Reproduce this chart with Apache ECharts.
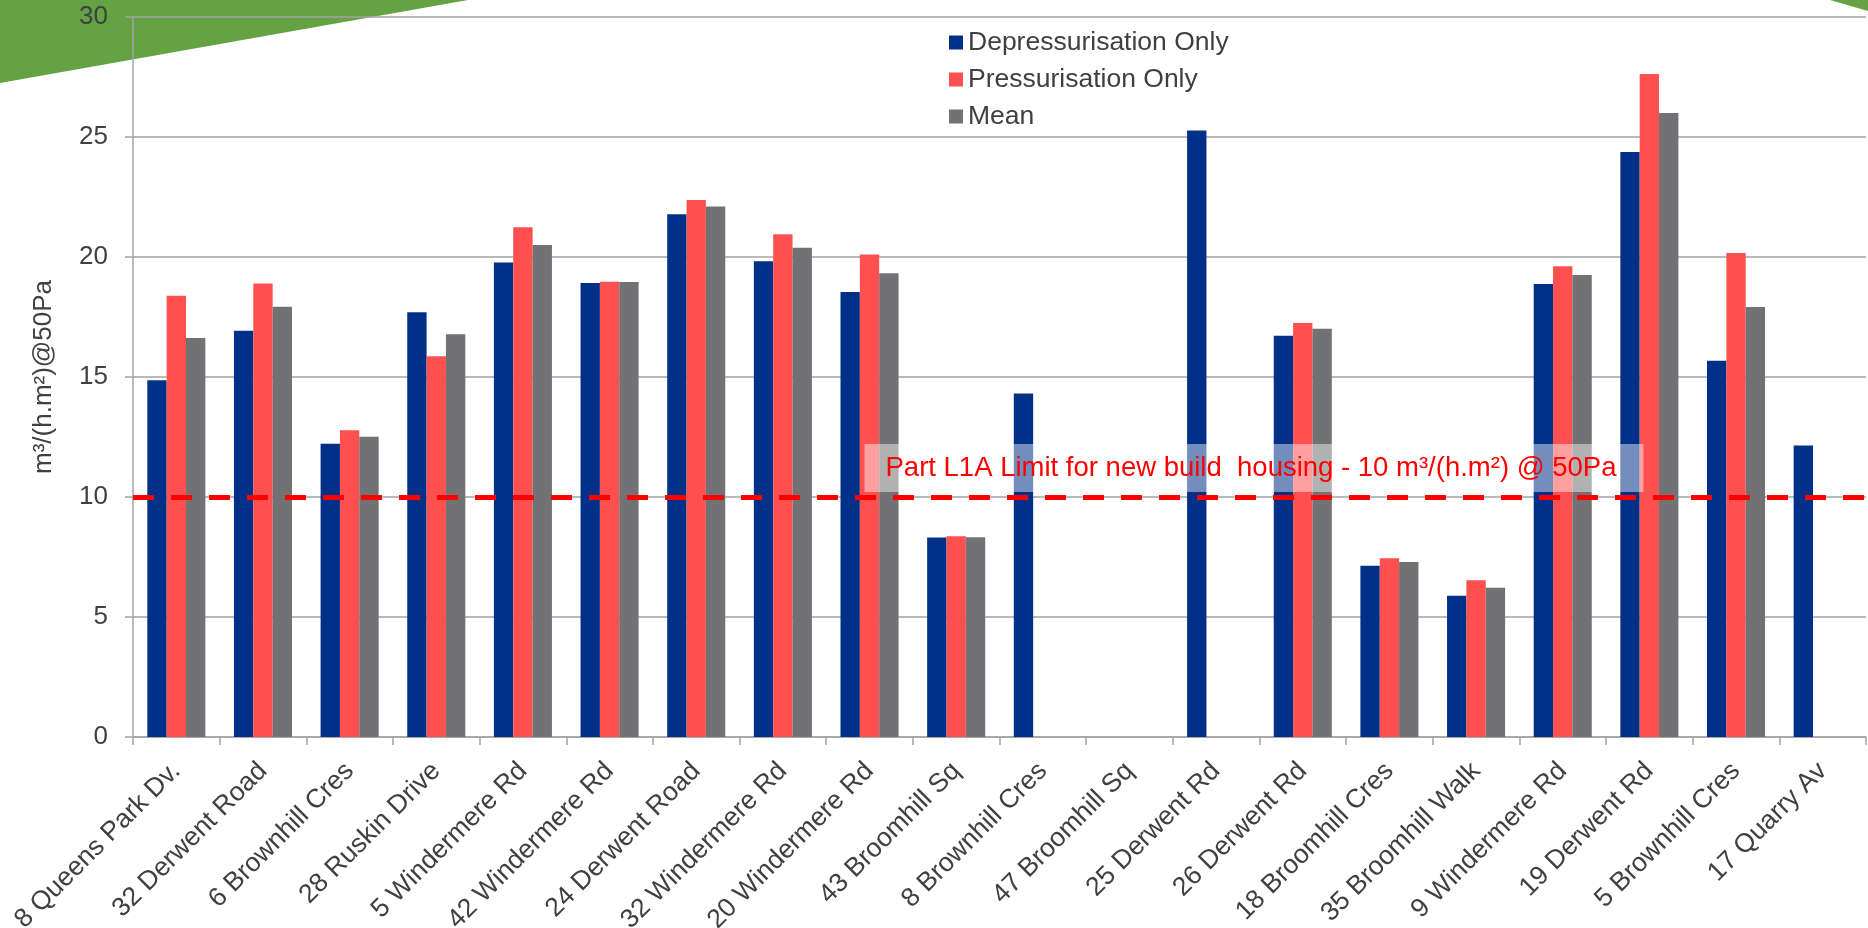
<!DOCTYPE html>
<html>
<head>
<meta charset="utf-8">
<title>Air permeability test results</title>
<script src="https://cdn.jsdelivr.net/npm/echarts@6/dist/echarts.min.js"></script>
<style>
  html, body { margin: 0; padding: 0; background: #ffffff; }
  #chart { width: 1868px; height: 928px; }
</style>
</head>
<body>
<div id="chart"></div>
<script>
// Dwellings tested
const categories = [
  '8 Queens Park Dv.', '32 Derwent Road', '6 Brownhill Cres', '28 Ruskin Drive',
  '5 Windermere Rd', '42 Windermere Rd', '24 Derwent Road', '32 Windermere Rd',
  '20 Windermere Rd', '43 Broomhill Sq', '8 Brownhill Cres', '47 Broomhill Sq',
  '25 Derwent Rd', '26 Derwent Rd', '18 Broomhill Cres', '35 Broomhill Walk',
  '9 Windermere Rd', '19 Derwent Rd', '5 Brownhill Cres', '17 Quarry Av'
];

// Air permeability, m³/(h.m²) @ 50Pa (null = not tested)
const depressurisation = [14.86, 16.93, 12.22, 17.70, 19.77, 18.92, 21.78, 19.82, 18.54, 8.31,
                          14.31, null, 25.27, 16.72, 7.14, 5.89, 18.88, 24.38, 15.68, 12.15];
const pressurisation   = [18.39, 18.90, 12.78, 15.86, 21.24, 18.97, 22.38, 20.95, 20.10, 8.36,
                          null, null, null, 17.25, 7.45, 6.53, 19.61, 27.63, 20.17, null];
const mean             = [16.63, 17.93, 12.51, 16.78, 20.50, 18.96, 22.10, 20.39, 19.32, 8.32,
                          null, null, null, 17.01, 7.29, 6.22, 19.25, 26.00, 17.92, null];

const seriesNames = ['Depressurisation Only', 'Pressurisation Only', 'Mean'];
const yAxisTitle = 'm\u00b3/(h.m\u00b2)@50Pa';

// Value axis range
const yMin = 0;
const yMax = 30;
const yStep = 5;

// Regulatory limit
const limitValue = 10;
const limitLabel = 'Part L1A Limit for new build  housing - 10 m\u00b3/(h.m\u00b2) @ 50Pa';

const FONT = '"Liberation Sans", Arial, Helvetica, sans-serif';
const TEXT = '#404040';
const GRID_GRAY = '#a3a3a3';
const COLORS = ['#003087', '#ff5050', '#727174'];
const GREEN = '#64a243';

const chart = echarts.init(document.getElementById('chart'), null, { renderer: 'canvas' });

function barSeries(name, data, color, extra) {
  return Object.assign({
    name: name,
    type: 'bar',
    data: data,
    barGap: '0%',
    barCategoryGap: '33%',
    itemStyle: { color: color },
    emphasis: { disabled: true }
  }, extra || {});
}

chart.setOption({
  animation: false,
  backgroundColor: '#ffffff',
  textStyle: { fontFamily: FONT },
  grid: {
    left: 133, right: 2, top: 17, bottom: 191,
    containLabel: false,
    outerBoundsMode: 'none'
  },
  legend: {
    orient: 'vertical',
    left: 949, top: 29,
    padding: 0,
    itemGap: 10,
    itemWidth: 14, itemHeight: 14,
    icon: 'rect',
    textStyle: { color: TEXT, fontSize: 26.5, lineHeight: 26, fontFamily: FONT },
    data: seriesNames
  },
  xAxis: {
    type: 'category',
    data: categories,
    boundaryGap: true,
    axisLine: { lineStyle: { color: GRID_GRAY, width: 1.5 } },
    axisTick: { show: true, length: 8, lineStyle: { color: GRID_GRAY, width: 1.5 } },
    axisLabel: {
      interval: 0, rotate: 45, margin: 30,
      color: TEXT, fontSize: 26.5, fontFamily: FONT
    }
  },
  yAxis: {
    type: 'value',
    min: yMin, max: yMax, interval: yStep,
    axisLine: { show: true, lineStyle: { color: GRID_GRAY, width: 1.5 } },
    axisTick: { show: true, length: 8, lineStyle: { color: GRID_GRAY, width: 1.5 } },
    axisLabel: { color: TEXT, fontSize: 26, margin: 25, fontFamily: FONT },
    splitLine: { show: true, lineStyle: { color: GRID_GRAY, width: 1.5 } }
  },
  series: [
    barSeries(seriesNames[0], depressurisation, COLORS[0], {
      markLine: {
        silent: true,
        symbol: 'none',
        z: 10,
        label: { show: false },
        lineStyle: { color: '#ff0000', width: 5, type: [21, 17] },
        data: [{ yAxis: limitValue }]
      }
    }),
    barSeries(seriesNames[1], pressurisation, COLORS[1]),
    barSeries(seriesNames[2], mean, COLORS[2])
  ]
});

// Decorative green slide shapes behind the plot, the vertical axis title,
// and the limit caption above the dashed line
const limitY = chart.convertToPixel({ yAxisIndex: 0 }, limitValue);
const midY = chart.convertToPixel({ yAxisIndex: 0 }, (yMin + yMax) / 2);
chart.setOption({
  graphic: [
    {
      type: 'polygon', z: -10, silent: true,
      shape: { points: [[0, 0], [468, 0], [0, 83]] },
      style: { fill: GREEN }
    },
    {
      type: 'polygon', z: -10, silent: true,
      shape: { points: [[1830, 0], [1868, 0], [1868, 11]] },
      style: { fill: GREEN }
    },
    {
      type: 'text', z: 100, silent: true,
      x: 44, y: midY,
      rotation: Math.PI / 2,
      style: {
        text: yAxisTitle,
        fill: TEXT,
        fontSize: 26,
        fontFamily: FONT,
        align: 'center',
        verticalAlign: 'middle'
      }
    },
    {
      type: 'text', z: 100, silent: true,
      x: 1254, y: limitY - 29,
      style: {
        text: limitLabel,
        fill: '#ff0000',
        fontSize: 27.5,
        fontFamily: FONT,
        align: 'center',
        verticalAlign: 'middle',
        lineHeight: 31,
        backgroundColor: 'rgba(255,255,255,0.45)',
        padding: [8, 27, 9, 21]
      }
    }
  ]
});
</script>
</body>
</html>
